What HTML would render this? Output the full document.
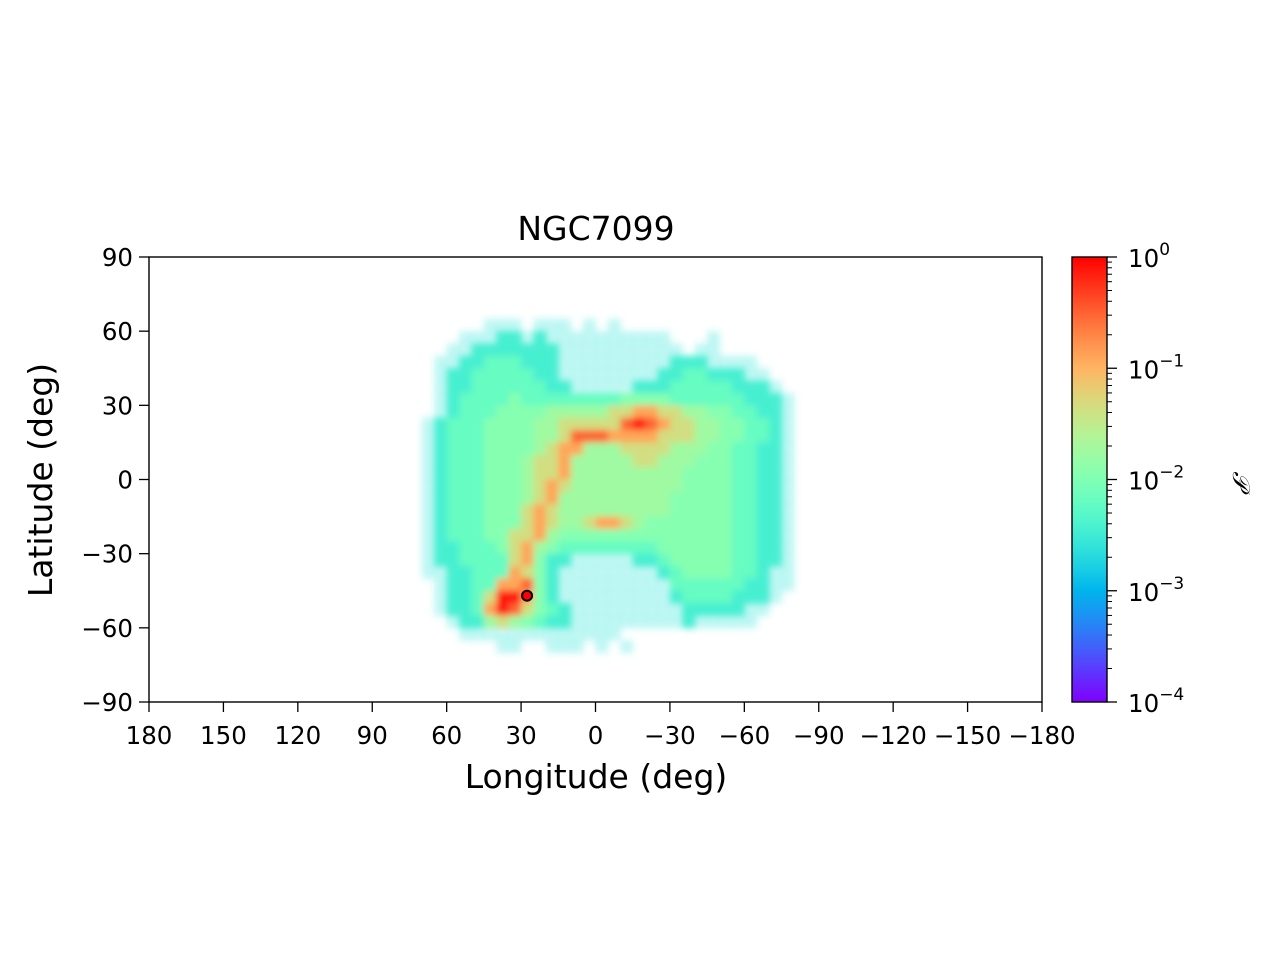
<!DOCTYPE html>
<html><head><meta charset="utf-8"><style>
body{margin:0;background:#fff;}
svg{font-family:"DejaVu Sans","Liberation Sans",sans-serif;}
</style></head><body>
<svg id="chart" width="1280" height="960" xmlns="http://www.w3.org/2000/svg">
<defs>
<filter id="blur" x="-10%" y="-10%" width="120%" height="120%"><feGaussianBlur stdDeviation="3.5"/></filter>
<linearGradient id="cbgrad" x1="0" y1="1" x2="0" y2="0"></linearGradient>
<clipPath id="plotclip"><rect x="149" y="257" width="893" height="445"/></clipPath>
</defs>
<rect width="1280" height="960" fill="#fff"/>
<text x="596" y="240" font-size="33" text-anchor="middle">NGC7099</text>
<g id="heat" clip-path="url(#plotclip)" filter="url(#blur)"></g>
<g id="marker"></g>
<rect x="149" y="257" width="893" height="445" fill="none" stroke="#000" stroke-width="1.4"/>
<g id="xticks"></g>
<g id="yticks"></g>
<text x="596" y="788" font-size="33" text-anchor="middle">Longitude (deg)</text>
<text transform="translate(52,480) rotate(-90)" font-size="33" text-anchor="middle">Latitude (deg)</text>
<rect x="1072" y="257" width="35" height="445" fill="url(#cbgrad)" stroke="#000" stroke-width="1.4"/>
<g id="cbticks"></g>
<text transform="translate(1233,480) rotate(90)" font-size="24" font-style="italic" text-anchor="middle" font-family="DejaVu Serif, serif">𝒫</text>
</svg>
<script>
// data
const lonEdges = [70,65,60,55,50,45,40,35,30,25,20,15,10,5,0,-5,-10,-15,-20,-25,-30,-35,-40,-45,-50,-55,-60,-65,-70,-75];
const latEdges = [70,65,60,55,50,45,40,35,30,25,20,15,10,5,0,-5,-10,-15,-20,-25,-30,-35,-40,-45,-50,-55,-60,-65,-70];
const densityRows = [
"000000000000000000000000000000",
"000001110111010100000000000000",
"000111221211111111110001000000",
"001122222221111111111011000000",
"011223332221111111112221111000",
"012233333221111111122332221100",
"012233333322111112223333322210",
"012333343333333344443333332221",
"012333444455555667766554433221",
"123334444556666689876655443321",
"123334444556888777766655443321",
"123334444567755566665554433221",
"123334445667555556655544433221",
"123334445667555555555444433221",
"123334445676555555555444433221",
"123334445675555555554444433221",
"123334446765555555554444433221",
"123334446765567765444444433221",
"123334466754444444444444433221",
"122333467543333333344444433221",
"122333367422111112234444433221",
"112233376421111111123444433211",
"012233778421111111113333332211",
"012236997421111111112333322210",
"012237986432111111111222221100",
"001225654322111111111211111000",
"000111111111111100000000000000",
"000000110011101010000000000000",
"000000000000000000000000000000"
];
const levelLogP = [null,-2.6,-2.45,-2.2,-1.95,-1.75,-1.35,-0.9,-0.5,-0.1];
const clusterLon = [27.6];
const clusterLat = [-47];
const xTickVals = [180,150,120,90,60,30,0,-30,-60,-90,-120,-150,-180];
const yTickVals = [90,60,30,0,-30,-60,-90];
const cbTickExps = [0,-1,-2,-3,-4];

const NS="http://www.w3.org/2000/svg";
const X0=149,X1=1042,Y0=257,Y1=702;
const X=lon=>X0+(180-lon)*(X1-X0)/360;
const Y=lat=>Y0+(90-lat)*(Y1-Y0)/180;
const CB=lg=>Y0+(-lg)*(Y1-Y0)/4;
function rainbow(t){t=Math.max(0,Math.min(1,t));
 const r=Math.min(1,Math.abs(2*t-0.5)),g=Math.sin(Math.PI*t),b=Math.cos(Math.PI*t/2);
 return `rgb(${Math.round(r*255)},${Math.round(g*255)},${Math.round(b*255)})`;}
function mk(tag,attrs,parent){const e=document.createElementNS(NS,tag);for(const k in attrs)e.setAttribute(k,attrs[k]);parent.appendChild(e);return e;}

const heat=document.getElementById('heat');
densityRows.forEach((row,r)=>{
 for(let c=0;c<row.length;c++){
  const d=+row[c]; if(!d) continue;
  const lg=levelLogP[d];
  const L=lonEdges[c],T=latEdges[r];
  const x=X(L),y=Y(T),w=X(L-5)-x+0.5,h=Y(T-5)-y+0.5;
  const el=mk('rect',{x:x,y:y,width:w,height:h,fill:rainbow((lg+4)/4),opacity:d==1?0.3:1},heat);
  
  
 }
});
const mg=document.getElementById('marker');
clusterLon.forEach((lo,i)=>{
 const m=mk('circle',{cx:X(lo),cy:Y(clusterLat[i]),r:5,fill:'#f00',stroke:'#000','stroke-width':2},mg);
 
 
});
const fmt=v=>v<0?'\u2212'+(-v):''+v;
const xt=document.getElementById('xticks');
xTickVals.forEach(v=>{const x=X(v);
 mk('line',{x1:x,x2:x,y1:Y1,y2:Y1+10,stroke:'#000','stroke-width':1.3},xt);
 const t=mk('text',{x:x,y:Y1+42,'font-size':24.5,'text-anchor':'middle'},xt);t.textContent=fmt(v);
 
 
});
const yt=document.getElementById('yticks');
yTickVals.forEach(v=>{const y=Y(v);
 mk('line',{x1:X0-10,x2:X0,y1:y,y2:y,stroke:'#000','stroke-width':1.3},yt);
 const t=mk('text',{x:X0-16,y:y+9,'font-size':24.5,'text-anchor':'end'},yt);t.textContent=fmt(v);
 
 
});
const grad=document.getElementById('cbgrad');
for(let i=0;i<=20;i++){mk('stop',{offset:(i/20),'stop-color':rainbow(i/20)},grad);}
const cb=document.getElementById('cbticks');
cbTickExps.forEach(e=>{const y=CB(e);
 mk('line',{x1:1107,x2:1117,y1:y,y2:y,stroke:'#000','stroke-width':1.3},cb);
 const t=mk('text',{x:1128,y:y+10,'font-size':24.5},cb);
 t.textContent='10';
 const s=mk('tspan',{dy:-12,'font-size':17},t);s.textContent=e<0?'\u2212'+(-e):''+e;
 
 
 if(e>-4){for(let k=2;k<10;k++){const yy=CB(e-1+Math.log10(k));
  mk('line',{x1:1107,x2:1112,y1:yy,y2:yy,stroke:'#000','stroke-width':1},cb);}}
});
</script>
</body></html>
